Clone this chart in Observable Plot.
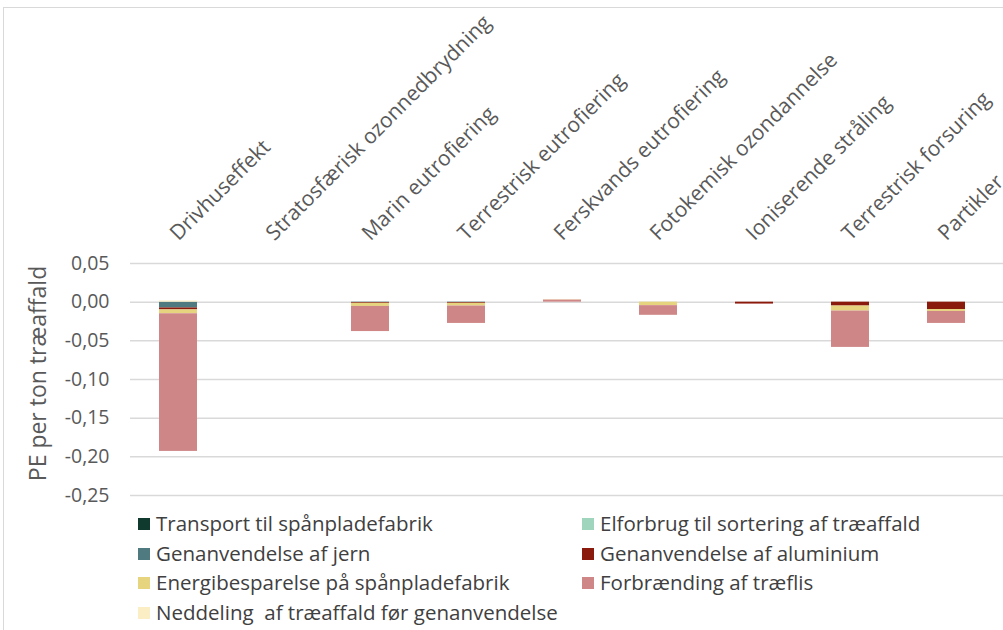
<!DOCTYPE html>
<html>
<head>
<meta charset="utf-8">
<script src="https://cdn.jsdelivr.net/npm/d3@7"></script>
<script src="https://cdn.jsdelivr.net/npm/@observablehq/plot@0.6"></script>
<style>
  html, body { margin: 0; padding: 0; background: #fff; width: 1003px; height: 630px; overflow: hidden; }
  #frame { position: absolute; left: 3px; top: 7px; width: 1100px; height: 700px;
           border-left: 1.5px solid #d9d9d9; border-top: 1.5px solid #d9d9d9; }
  #chart { position: absolute; left: 0; top: 0; }
  #legend { position: absolute; left: 0; top: 0; font-family: "Open Sans", "Noto Sans", sans-serif; font-size: 20.5px; color: #404040; }
  .item { position: absolute; white-space: pre; line-height: 26px; }
  .sw { position: absolute; width: 12px; height: 12px; }
</style>
</head>
<body>
<div id="frame"></div>
<div id="chart"></div>
<div id="legend"></div>
<script>
// Impact categories (x axis, labels on top)
const categories = [
  "Drivhuseffekt",
  "Stratosfærisk ozonnedbrydning",
  "Marin eutrofiering",
  "Terrestrisk eutrofiering",
  "Ferskvands eutrofiering",
  "Fotokemisk ozondannelse",
  "Ioniserende stråling",
  "Terrestrisk forsuring",
  "Partikler"
];

// Contributing processes (stack order)
const series = [
  "Transport til spånpladefabrik",
  "Elforbrug til sortering af træaffald",
  "Genanvendelse af jern",
  "Genanvendelse af aluminium",
  "Energibesparelse på spånpladefabrik",
  "Forbrænding af træflis",
  "Neddeling  af træaffald før genanvendelse"
];
const colors = ["#103a2e", "#9fd4bd", "#4f7a80", "#8a1a0b", "#e6d47f", "#cf8686", "#fbeec4"];

// PE per ton træaffald, one value per category
const transport    = [0, 0, 0, 0, 0, 0, 0, 0, 0];
const elforbrug    = [0, 0, 0, 0, 0, 0, 0, 0, 0];
const jern         = [-0.0075, 0, -0.0005, -0.0005, 0, 0, 0, 0, 0];
const aluminium    = [-0.0025, 0, -0.001, -0.001, 0, 0, -0.0025, -0.005, -0.0095];
const energi       = [-0.005, 0, -0.004, -0.0035, 0, -0.0045, 0, -0.0065, -0.0025];
const forbraending = [-0.178, 0, -0.0325, -0.0225, 0.003, -0.0125, -0.0005, -0.047, -0.0155];
const neddeling    = [0.0015, 0, 0, 0, 0.0005, 0, 0, 0, 0];

const yTicks = [0.05, 0, -0.05, -0.10, -0.15, -0.20, -0.25];

const valueSets = [transport, elforbrug, jern, aluminium, energi, forbraending, neddeling];
const rows = [];
series.forEach((s, si) => categories.forEach((c, ci) => rows.push({category: c, series: s, value: valueSets[si][ci]})));

const fmt = d => d.toFixed(2).replace(".", ",");
const font = "'Open Sans', 'Noto Sans', sans-serif";

const chart = Plot.plot({
  width: 1003,
  height: 505,
  marginTop: 263,
  marginBottom: 10,
  marginLeft: 130,
  marginRight: 0,
  style: {fontFamily: font, background: "transparent", overflow: "visible"},
  x: {domain: categories, range: [130, 994], paddingInner: 0.604, paddingOuter: 0.302, axis: null},
  y: {domain: [-0.25, 0.05], axis: null},
  color: {domain: series, range: colors},
  marks: [
    Plot.ruleY(yTicks, {stroke: "#d9d9d9", strokeWidth: 1.5}),
    Plot.barY(rows, {x: "category", y: "value", z: "series", fill: "series", order: series}),
    Plot.text(yTicks, {y: d => d, frameAnchor: "left", dx: -21, textAnchor: "end", text: fmt, fontSize: 19.5, fill: "#595959"}),
    Plot.text(["PE per ton træaffald"], {frameAnchor: "left", dx: -92, dy: -6, rotate: -90, textAnchor: "middle", fontSize: 23, fill: "#595959"}),
    Plot.text(categories, {x: d => d, frameAnchor: "top", dy: -22, dx: 0, rotate: -45, textAnchor: "start", lineAnchor: "bottom", fontSize: 21, fill: "#595959"})
  ]
});
document.getElementById("chart").appendChild(chart);

// Legend: two columns, row-major
const legend = document.getElementById("legend");
series.forEach((s, i) => {
  const col = i % 2, row = Math.floor(i / 2);
  const x = col === 0 ? 138 : 582;
  const y = 524 + row * 29.5;
  const sw = document.createElement("div");
  sw.className = "sw";
  sw.style.left = x + "px";
  sw.style.top = (y - 6) + "px";
  sw.style.background = colors[i];
  legend.appendChild(sw);
  const t = document.createElement("div");
  t.className = "item";
  t.style.left = (x + 18) + "px";
  t.style.top = (y - 14) + "px";
  t.textContent = s;
  legend.appendChild(t);
});
</script>
</body>
</html>
